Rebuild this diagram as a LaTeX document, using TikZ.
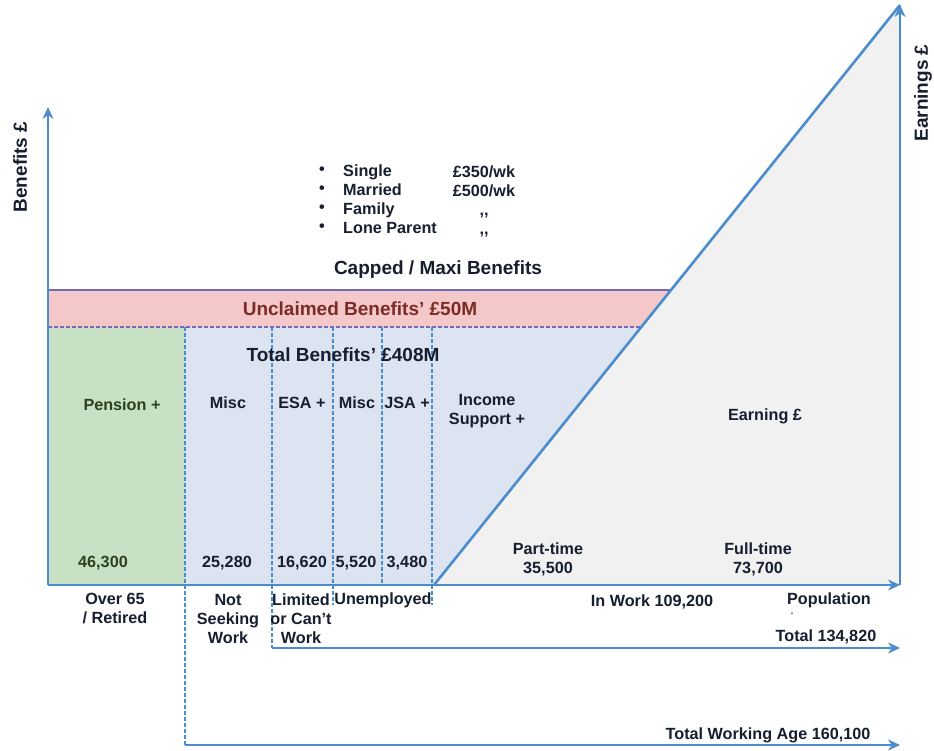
\documentclass[tikz,border=0pt]{standalone}
\usepackage{fontspec}
\setmainfont{Liberation Sans}
\usetikzlibrary{arrows.meta}

\definecolor{axisblue}{RGB}{74,140,204}
\definecolor{bandline}{RGB}{112,104,184}
\definecolor{unclpink}{RGB}{244,200,200}
\definecolor{uncltext}{RGB}{122,44,40}
\definecolor{benblue}{RGB}{220,228,241}
\definecolor{pengreen}{RGB}{200,224,195}
\definecolor{pentext}{RGB}{44,64,30}
\definecolor{earngray}{RGB}{241,241,241}
\definecolor{textdark}{RGB}{22,30,48}

\begin{document}
\begin{tikzpicture}[x=1pt, y=-1pt,
    lbl/.style={font=\bfseries\fontsize{16.2}{19}\selectfont, text=textdark, align=center, inner sep=0pt},
    big/.style={lbl, font=\bfseries\fontsize{19}{21}\selectfont},
    axis/.style={draw=axisblue, line width=2.6pt, -{Stealth[length=12pt,width=11pt]}},
    divider/.style={draw=axisblue, line width=1.6pt, dash pattern=on 4pt off 2pt}]

  \useasboundingbox (0,0) rectangle (934,751);

  % Axes and corners
  \coordinate (o) at (48,585);
  \coordinate (btop) at (48,107);
  \coordinate (xend) at (900,585);
  \coordinate (etop) at (900,5);
  \coordinate (d0) at (434,585);

  \coordinate (bandtl) at (48,290);
  \coordinate (bandtr) at (671,290);
  \coordinate (bandbl) at (48,327);
  \coordinate (bandbr) at (641,327);

  % Areas
  \fill[earngray] (d0) -- (xend) -- (etop) -- cycle;
  \fill[benblue] (bandbl) -- (bandbr) -- (d0) -- (o) -- cycle;
  \fill[pengreen] (bandbl) rectangle (185,585);
  \fill[unclpink] (bandtl) -- (bandtr) -- (bandbr) -- (bandbl) -- cycle;
  \draw[bandline, line width=1.6pt] (bandtl) -- (bandtr);
  \draw[bandline, line width=1.6pt, dash pattern=on 4pt off 2pt] (bandbl) -- (bandbr);

  % Column dividers
  \coordinate (c1t) at (185,327);
  \coordinate (c1b) at (185,745);
  \coordinate (a1) at (900,745);
  \coordinate (c2t) at (272,327);
  \coordinate (c2b) at (272,648);
  \coordinate (a2) at (900,648);
  \draw[divider] (c1t) -- (c1b);
  \draw[divider] (c2t) -- (c2b);
  \foreach \cx/\cy in {333/605, 382/585, 432/605} {
    \coordinate (ct) at (\cx,327);
    \coordinate (cb) at (\cx,\cy);
    \draw[divider] (ct) -- (cb);
  }

  \draw[axis] (o) -- (btop);
  \draw[axis] (o) -- (xend);
  \draw[axis] (xend) -- (etop);
  \draw[draw=axisblue, line width=2.6pt] (d0) -- (etop);
  \draw[axis] (c1b) -- (a1);
  \draw[axis] (c2b) -- (a2);

  % Axis labels
  \node[big, rotate=90] (benefits) at (20,167) {Benefits £};
  \node[big, rotate=90] (earnings) at (923,93) {Earnings £};

  % Caps list
  \node[lbl, align=left, anchor=west] (kinds) at (343,199) {Single\\Married\\Family\\Lone Parent};
  \node[lbl] (dots) at (322,199) {\textbullet\\\textbullet\\\textbullet\\\textbullet};
  \node[lbl] (caps) at (484,201) {£350/wk\\£500/wk\\,{},\\,{},};
  \node[big] (capped) at (438,270) {Capped / Maxi Benefits};
  \node[big, text=uncltext] (unclaimed) at (360,309) {Unclaimed Benefits’ £50M};
  \node[big] (total) at (343,355) {Total Benefits’ £408M};

  % Column heads
  \node[lbl, text=pentext] (pension) at (122,405) {Pension +};
  \node[lbl] (misc1) at (228,403) {Misc};
  \node[lbl] (esa) at (302,403) {ESA +};
  \node[lbl] (misc2) at (357,403) {Misc};
  \node[lbl] (jsa) at (407,403) {JSA +};
  \node[lbl] (income) at (487,411) {Income\\Support +};
  \node[lbl] (earning) at (765,416) {Earning £};

  % Counts
  \node[lbl, text=pentext] (n46) at (103,563) {46,300};
  \node[lbl] (n25) at (227,563) {25,280};
  \node[lbl] (n16) at (302,563) {16,620};
  \node[lbl] (n5) at (356,563) {5,520};
  \node[lbl] (n3) at (407,563) {3,480};
  \node[lbl] (parttime) at (548,559) {Part-time\\35,500};
  \node[lbl] (fulltime) at (758,559) {Full-time\\73,700};

  % Groups below the axis
  \node[lbl] (over65) at (115,609) {Over 65\\/ Retired};
  \node[lbl] (notseek) at (228,619) {Not\\Seeking\\Work};
  \node[lbl] (limited) at (301,619) {Limited\\or Can’t\\Work};
  \node[lbl] (unempl) at (383,600) {Unemployed};
  \node[lbl] (inwork) at (652,602) {In Work 109,200};
  \node[lbl] (population) at (829,600) {Population};
  \node[lbl, font=\bfseries\fontsize{9}{10}\selectfont] (popdot) at (792,614) {.};
  \node[lbl] (total134) at (826,637) {Total 134,820};
  \node[lbl] (totalwa) at (768,735) {Total Working Age 160,100};
\end{tikzpicture}
\end{document}
